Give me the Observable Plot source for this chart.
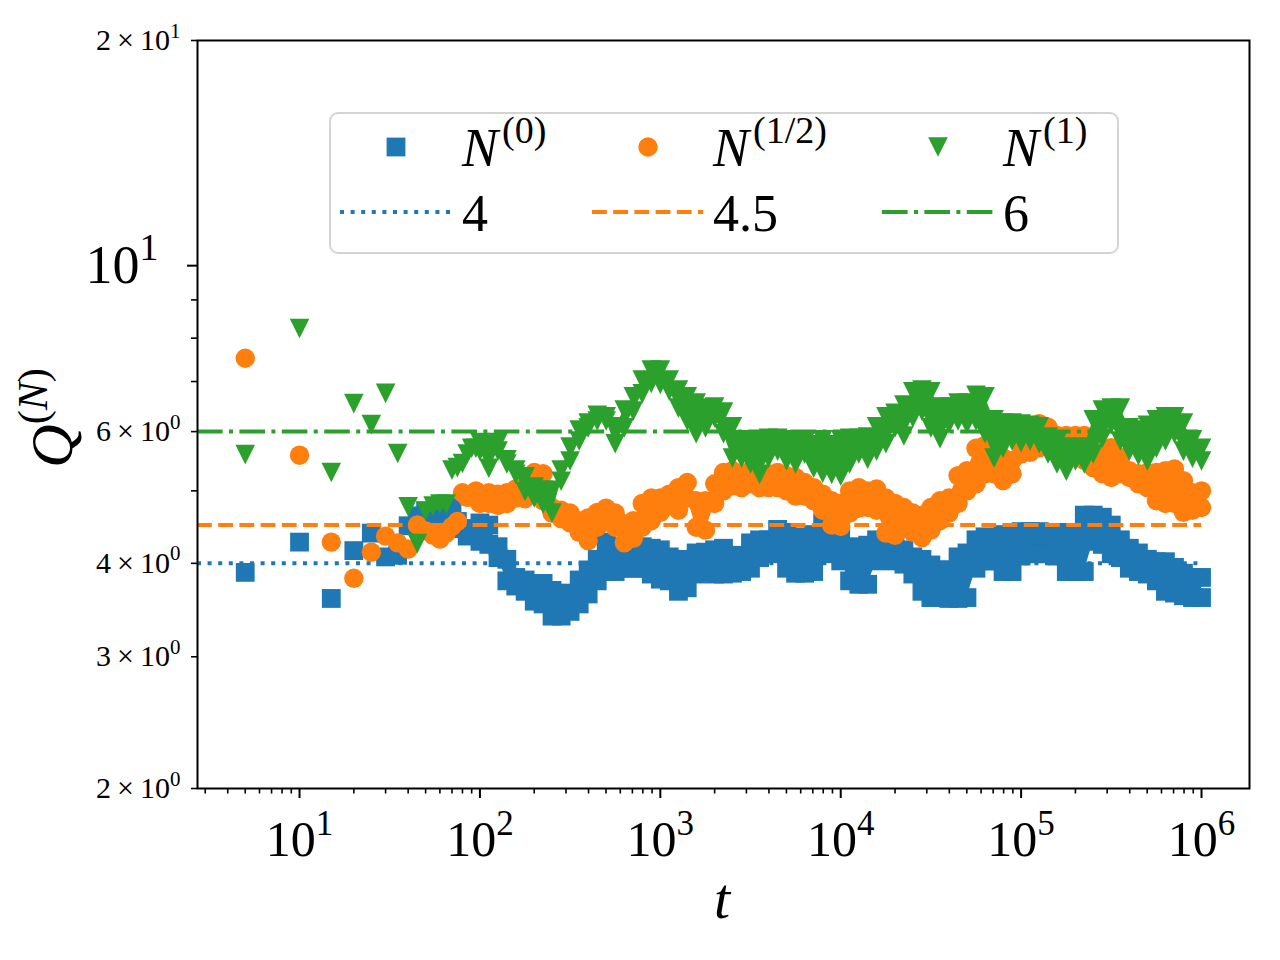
<!DOCTYPE html>
<html><head><meta charset="utf-8">
<script src="https://cdn.jsdelivr.net/npm/d3@7"></script>
<script src="https://cdn.jsdelivr.net/npm/@observablehq/plot@0.6"></script>
<style>html,body{margin:0;padding:0;background:#fff;} #chart svg{display:block}</style>
</head><body><div id="chart"></div>
<script>
// ---------- data ----------
// early individual samples (t = 5, 10, ..., 95)
const tEarly = [5,10,15,20,25,30,35,40,45,50,55,60,65,70,75,80,85,90,95];
const blueEarlyQ   = [3.89,4.27,3.59,4.16,4.39,4.08,4.10,4.49,4.63,4.70,4.60,4.55,4.65,4.75,4.55,4.45,4.35,4.40,4.45];
const orangeEarlyQ = [7.52,5.58,4.27,3.82,4.14,4.35,4.26,4.18,4.50,4.42,4.36,4.31,4.39,4.48,4.55,4.97,4.90,4.90,5.00];
const greenEarlyQ  = [5.59,8.24,5.29,6.54,6.13,6.75,5.61,4.76,4.25,4.70,4.77,4.80,4.80,5.33,5.37,5.44,5.60,5.70,5.70];

// dense part: sample times, and the upper / lower extent of each series' scatter band there
const tGrid = [100,112,126,141,158,178,200,224,251,282,316,355,398,447,501,562,631,708,794,891,
  1000,1120,1260,1410,1580,1780,2000,2240,2510,2820,3160,3550,3980,4470,5010,5620,6310,7080,7940,8910,
  10000,11200,12600,14100,15800,17800,20000,22400,25100,28200,31600,35500,39800,44700,50100,56200,63100,70800,79400,89100,
  100000,112000,126000,141000,158000,178000,200000,224000,251000,282000,316000,355000,398000,447000,501000,562000,631000,708000,794000,891000,1000000];

const blueHi = [4.53,4.50,4.21,4.05,3.83,3.80,3.76,3.76,3.68,3.65,
  3.61,3.80,3.92,4.05,4.27,4.21,4.17,4.19,4.21,4.19,
  4.17,4.08,3.95,4.05,4.13,4.14,4.17,4.19,4.08,4.10,
  4.26,4.30,4.30,4.44,4.40,4.33,4.34,4.37,4.53,4.50,
  4.37,4.21,4.19,4.23,4.30,4.26,4.26,4.17,4.08,4.05,
  3.98,3.92,3.92,4.08,4.13,4.30,4.34,4.33,4.37,4.40,
  4.41,4.41,4.41,4.40,4.40,4.30,4.40,4.64,4.64,4.61,
  4.50,4.30,4.19,4.13,4.05,4.02,4.02,3.95,3.88,3.83,3.83];
const blueLo = [4.28,4.24,4.07,3.79,3.73,3.67,3.56,3.53,3.40,3.40,
  3.45,3.53,3.64,3.79,3.90,3.90,3.94,3.94,3.94,3.87,
  3.81,3.79,3.67,3.71,3.87,3.90,3.87,3.87,3.88,3.90,
  3.94,4.07,4.15,4.12,3.94,3.88,3.88,3.90,4.12,4.19,
  4.03,3.79,3.75,3.75,4.03,4.07,4.03,3.99,3.87,3.67,
  3.60,3.60,3.59,3.59,3.60,3.94,4.03,4.03,3.90,3.90,
  4.09,4.12,4.12,4.12,4.09,3.90,3.90,3.90,4.28,4.24,
  4.12,4.07,3.94,3.90,3.87,3.79,3.67,3.65,3.62,3.60,3.60];

const orangeHi = [4.95,4.97,4.95,4.97,5.03,5.05,5.29,5.27,4.75,4.71,
  4.67,4.56,4.60,4.68,4.74,4.67,4.52,4.56,4.81,4.89,
  4.89,4.95,5.05,5.13,4.85,4.85,5.11,5.29,5.32,5.27,
  5.32,5.27,5.27,5.29,5.24,5.21,5.13,5.05,4.95,4.85,
  4.81,5.00,5.05,5.00,5.03,4.89,4.81,4.75,4.67,4.64,
  4.75,4.85,4.89,5.24,5.32,5.70,5.75,5.61,5.54,5.49,
  5.75,5.89,6.15,6.08,5.93,5.93,5.93,5.93,5.54,5.66,
  5.71,5.54,5.32,5.27,5.29,5.29,5.32,5.35,5.16,4.97,5.00];
const orangeLo = [4.81,4.81,4.78,4.81,4.89,4.88,5.05,4.85,4.67,4.59,
  4.53,4.40,4.29,4.47,4.60,4.47,4.26,4.32,4.47,4.56,
  4.68,4.78,4.71,4.89,4.47,4.43,4.81,5.00,5.08,5.05,
  5.11,5.05,5.05,5.05,5.00,4.92,4.92,4.85,4.71,4.50,
  4.48,4.67,4.74,4.75,4.71,4.39,4.36,4.46,4.40,4.33,
  4.43,4.56,4.67,4.81,5.00,5.11,5.27,5.27,5.16,5.27,
  5.60,5.63,5.71,5.79,5.66,5.61,5.58,5.49,5.37,5.27,
  5.21,5.27,5.21,5.11,5.05,4.85,4.81,4.81,4.68,4.71,4.75];

const greenHi = [5.80,5.76,5.80,5.50,5.33,5.22,5.06,5.01,5.01,5.33,
  5.72,6.03,6.16,6.31,6.28,6.09,6.41,6.68,7.03,7.25,
  7.25,7.03,6.82,6.68,6.55,6.45,6.47,6.37,6.09,5.85,
  5.85,5.81,5.88,5.88,5.85,5.81,5.80,5.76,5.85,5.76,
  5.85,5.88,5.88,5.90,6.09,6.28,6.35,6.51,6.78,6.82,
  6.78,6.47,6.47,6.55,6.55,6.71,6.68,6.22,6.16,6.16,
  6.14,6.12,6.09,5.90,5.80,5.72,5.70,5.72,6.22,6.41,
  6.45,6.45,6.07,6.03,6.12,6.22,6.28,6.28,6.16,5.85,5.70];
const greenLo = [5.65,5.36,5.65,5.43,5.26,4.99,4.89,4.80,4.67,5.15,
  5.48,5.83,6.07,6.20,6.20,5.78,6.07,6.39,6.74,6.96,
  6.94,6.80,6.45,6.20,5.96,6.07,6.26,5.96,5.53,5.53,
  5.43,5.26,5.53,5.65,5.48,5.43,5.60,5.36,5.28,5.26,
  5.23,5.43,5.60,5.51,5.65,5.78,6.07,5.92,6.26,6.39,
  6.07,5.87,6.14,6.20,6.14,6.20,5.96,5.53,5.70,5.83,
  5.80,5.83,5.78,5.60,5.43,5.31,5.48,5.43,5.60,5.88,
  6.14,5.83,5.65,5.57,5.48,5.70,5.83,5.96,5.65,5.53,5.48];

// reference levels and labels
const refValues = [4, 4.5, 6];
const refLabels = ["4", "4.5", "6"];
const seriesSup = ["(0)", "(1/2)", "(1)"];
const colors = ["#1f77b4", "#ff7f0e", "#2ca02c"];

// axes
const xDomain = [2.719, 1.845e6];
const yDomain = [2, 20];
const xTicksMajor = [10, 100, 1e3, 1e4, 1e5, 1e6];
const yTicksMajor = [10];
const yTicksLabeled = [2, 3, 4, 6, 20];
const yTicksMinor = [5, 7, 8, 9];

// ---------- build ----------
const FONT = "'Liberation Serif', 'Times New Roman', serif";
const early = (arr) => tEarly.map((t, i) => ({t, q: arr[i]}));
const band = (hi, lo) => tGrid.map((t, i) => ({t, hi: hi[i], lo: lo[i]}));
const xMinor = [];
for (const dec of [1, 10, 100, 1e3, 1e4, 1e5, 1e6]) for (const m of [2,3,4,5,6,7,8,9]) {
  const v = m * dec; if (v > xDomain[0] && v < xDomain[1]) xMinor.push(v);
}

const squareSym = {draw(ctx, size) {const h = Math.sqrt(size / Math.PI);
  ctx.moveTo(-h, -h); ctx.lineTo(h, -h); ctx.lineTo(h, h); ctx.lineTo(-h, h); ctx.closePath();}};
const triDownSym = {draw(ctx, size) {const h = Math.sqrt(size / Math.PI);
  ctx.moveTo(-h, -h); ctx.lineTo(h, -h); ctx.lineTo(0, h); ctx.closePath();}};
const symbols = [squareSym, "circle", triDownSym];
const radii = [9.4, 9.7, 9.8];
const dashes = ["4,6.6", "14.8,6.4", "25.6,6.4,4,6.4"];

const bands = [band(blueHi, blueLo), band(orangeHi, orangeLo), band(greenHi, greenLo)];
const earlies = [early(blueEarlyQ), early(orangeEarlyQ), early(greenEarlyQ)];

const marks = [];
for (let s = 0; s < 3; s++) {
  const common = {symbol: symbols[s], r: radii[s], fill: colors[s], stroke: "none"};
  marks.push(Plot.areaY(bands[s], {x: "t", y1: "lo", y2: "hi", fill: colors[s]}));
  marks.push(Plot.dot(earlies[s], {x: "t", y: "q", ...common}));
  marks.push(Plot.dot(bands[s], {x: "t", y: "hi", ...common}));
  marks.push(Plot.dot(bands[s], {x: "t", y: "lo", ...common}));
}
for (let s = 0; s < 3; s++) {
  marks.push(Plot.ruleY([refValues[s]], {y: d => d, x1: () => xDomain[0], x2: () => 1e6,
    stroke: colors[s], strokeWidth: 4, strokeDasharray: dashes[s]}));
}
marks.push(Plot.frame({stroke: "black", strokeWidth: 2}));
marks.push(Plot.axisX({ticks: xTicksMajor, tickFormat: d => "10^" + Math.round(Math.log10(d)),
  tickSize: 10, tickPadding: 22, strokeWidth: 2, fontSize: 50, label: null}));
marks.push(Plot.axisX({ticks: xMinor, tickFormat: () => "", tickSize: 5.5, strokeWidth: 1.6, label: null}));
marks.push(Plot.axisY({ticks: yTicksMajor, tickFormat: d => "10^" + Math.round(Math.log10(d)),
  tickSize: 10, tickPadding: 29, strokeWidth: 2, fontSize: 54, label: null}));
marks.push(Plot.axisY({ticks: yTicksLabeled,
  tickFormat: d => d >= 10 ? `${d / 10}\u2009×\u200910^1` : `${d}\u2009×\u200910^0`,
  tickSize: 6, tickPadding: 11, strokeWidth: 1.6, fontSize: 30, label: null}));
marks.push(Plot.axisY({ticks: yTicksMinor, tickFormat: () => "", tickSize: 6, strokeWidth: 1.6, label: null}));

const svg = Plot.plot({
  width: 1280, height: 960,
  marginLeft: 197, marginRight: 31, marginTop: 40, marginBottom: 172,
  x: {type: "log", domain: xDomain},
  y: {type: "log", domain: yDomain},
  style: {fontFamily: FONT, background: "white", color: "black"},
  marks
});
document.getElementById("chart").appendChild(svg);

// superscripts in tick labels
const NS = "http://www.w3.org/2000/svg";
svg.querySelectorAll("text").forEach(t => {
  const s = t.textContent;
  if (!s || s.indexOf("^") < 0) return;
  const [base, sup] = s.split("^");
  const fs = parseFloat(getComputedStyle(t).fontSize);
  while (t.firstChild) t.removeChild(t.firstChild);
  const a = document.createElementNS(NS, "tspan"); a.textContent = base; t.appendChild(a);
  const b = document.createElementNS(NS, "tspan"); b.textContent = sup;
  b.setAttribute("font-size", (fs * 0.7).toFixed(1));
  b.setAttribute("dy", (-0.42 * fs).toFixed(1));
  t.appendChild(b);
});

const root = d3.select(svg);
// axis titles
root.append("text").attr("x", 722).attr("y", 918).attr("text-anchor", "middle")
  .attr("font-family", FONT).attr("font-size", 58).attr("font-style", "italic").attr("fill", "black").text("t");
const yl = root.append("text").attr("transform", "translate(72,418) rotate(-90)")
  .attr("text-anchor", "middle").attr("font-family", FONT).attr("font-size", 60).attr("fill", "black");
yl.append("tspan").attr("font-style", "italic").text("Q");
yl.append("tspan").attr("font-size", 42).attr("dy", -25).text("(");
yl.append("tspan").attr("font-size", 42).attr("font-style", "italic").text("N");
yl.append("tspan").attr("font-size", 42).text(")");

// legend
const lg = root.append("g").attr("font-family", FONT).attr("fill", "black").attr("text-anchor", "start");
lg.append("rect").attr("x", 330).attr("y", 113).attr("width", 788).attr("height", 140).attr("rx", 8)
  .attr("fill", "white").attr("fill-opacity", 0.8).attr("stroke", "#d4d4d4").attr("stroke-width", 2);
const markerX = [396, 648, 938];
const textX = [462, 713, 1003];
const lineX = [[340, 452], [592, 703], [882, 993]];
for (let s = 0; s < 3; s++) {
  const sym = symbols[s] === "circle" ? d3.symbolCircle : symbols[s];
  lg.append("path").attr("transform", `translate(${markerX[s]},147)`)
    .attr("d", d3.symbol(sym, radii[s] * radii[s] * Math.PI)()).attr("fill", colors[s]);
  const t = lg.append("text").attr("x", textX[s]).attr("y", 166).attr("font-size", 54).attr("text-anchor", "start");
  t.append("tspan").attr("font-style", "italic").text("N");
  t.append("tspan").attr("font-size", 38).attr("dy", -23).attr("dx", 4).text(seriesSup[s]);
  lg.append("line").attr("x1", lineX[s][0]).attr("x2", lineX[s][1]).attr("y1", 212).attr("y2", 212)
    .attr("stroke", colors[s]).attr("stroke-width", 4).attr("stroke-dasharray", dashes[s]);
  lg.append("text").attr("x", textX[s]).attr("y", 231).attr("font-size", 52).attr("text-anchor", "start").text(refLabels[s]);
}
</script>
</body></html>
